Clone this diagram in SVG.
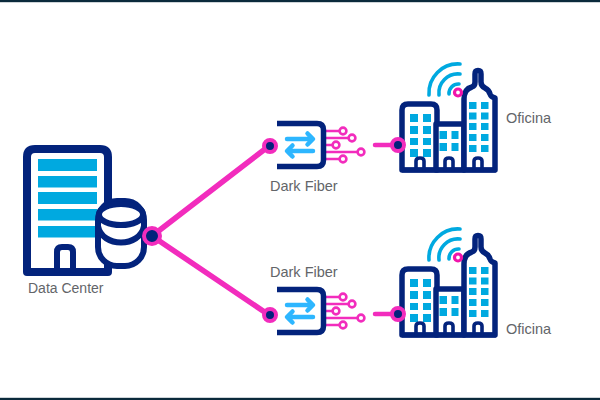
<svg xmlns="http://www.w3.org/2000/svg" width="600" height="400" viewBox="0 0 600 400">
<style>
.lbl{font-family:"Liberation Sans",Arial,sans-serif;font-size:14.5px;fill:#636569}
.nv{fill:none;stroke:#03237c;stroke-linejoin:round;stroke-linecap:round}
.wh{fill:#fff;stroke:#03237c;stroke-linejoin:round}
.pk{fill:none;stroke:#f22cbd;stroke-linecap:round}
.win{fill:#00a9e0}
.arr{fill:none;stroke:#2db6ff;stroke-width:4.500;stroke-linecap:round;stroke-linejoin:round}
.wifi{fill:none;stroke:#00a9e0;stroke-width:3.6;stroke-linecap:round}
.dot{fill:#03237c;stroke:#f22cbd;stroke-width:4}
</style>
<defs>
<g id="fiber">
<path class="pk" stroke-width="2.400" d="M326 131H340M326 138H349M326 145H333M326 152H358M326 159H340"/>
<g fill="#fff" stroke="#f22cbd" stroke-width="2.600">
<circle cx="343" cy="131" r="3.400"/><circle cx="352" cy="138" r="3.400"/><circle cx="336" cy="145" r="3.400"/><circle cx="361" cy="152" r="3.400"/><circle cx="343" cy="159" r="3.400"/>
</g>
<path d="M277 123.500H317Q323.500 123.500 323.500 130V160Q323.500 166.500 317 166.500H277" fill="none" stroke="#03237c" stroke-width="5.500"/>
<path class="arr" d="M287 139H312.500M307.500 133.500L313 139L307.500 144.500"/>
<path class="arr" d="M313 151H287.500M292.500 145.500L287 151L292.500 156.500"/>
</g>
<g id="city">
<path class="wifi" d="M429 95A29 29 0 0 1 460 64"/>
<path class="wifi" d="M439 95A19 19 0 0 1 460 74"/>
<path class="wifi" d="M449 94A9.500 9.500 0 0 1 459 84"/>
<path class="wh" stroke-width="5.500" d="M402 170V110Q402 104 408 104H431Q437 104 437 110V170Z"/>
<path class="wh" stroke-width="5.500" d="M436 170V124H464V170Z"/>
<path class="wh" stroke-width="5.500" d="M464 170V99Q464 89 472 87Q475 86 475 82V74Q475 70.500 478 70.500Q481 70.500 481 74V82Q481 86 485 88Q489 90 490 94Q491 97 495 98V170Z"/>
<path d="M402 170H496" fill="none" stroke="#03237c" stroke-width="5"/>
<g class="win">
<rect x="410" y="114" width="8" height="8"/><rect x="423" y="114" width="8" height="8"/>
<rect x="410" y="126" width="8" height="8"/><rect x="423" y="126" width="8" height="8"/>
<rect x="410" y="138" width="8" height="7"/><rect x="423" y="138" width="8" height="7"/>
<rect x="410" y="149" width="8" height="8"/><rect x="423" y="149" width="8" height="8"/>
<rect x="439.500" y="131" width="7.500" height="8"/><rect x="451.500" y="131" width="7" height="8"/>
<rect x="439.500" y="143" width="7.500" height="8"/><rect x="451.500" y="143" width="7" height="8"/>
<rect x="469" y="102" width="7.500" height="7"/><rect x="481" y="102" width="7.500" height="7"/>
<rect x="469" y="112.500" width="7.500" height="7"/><rect x="481" y="112.500" width="7.500" height="7"/>
<rect x="469" y="123" width="7.500" height="7"/><rect x="481" y="123" width="7.500" height="7"/>
<rect x="469" y="134" width="7.500" height="7"/><rect x="481" y="134" width="7.500" height="7"/>
<rect x="469" y="145" width="7.500" height="7"/><rect x="481" y="145" width="7.500" height="7"/>
</g>
<path class="nv" stroke-width="3.600" d="M416 170V161Q416 158 420 158Q424 158 424 161V170M445 170V161Q445 158 449 158Q453 158 453 161V170M474 170V161Q474 158 478 158Q482 158 482 161V170"/>
<circle cx="458" cy="92.500" r="3.500" fill="#fff" stroke="#f015ab" stroke-width="3.200"/>
</g>
</defs>
<rect width="600" height="400" fill="#fff"/>
<rect width="600" height="2.200" fill="#0b2a3c"/>
<rect y="397.800" width="600" height="2.200" fill="#0b2a3c"/>
<g id="connectors">
<path class="pk" stroke-width="5.500" d="M152 236L269 146M152 236L269 315"/>
<path class="pk" stroke-width="4.500" d="M375 145H398M375 314H398"/>
</g>
<g id="data-center">
<path d="M27 272V157Q27 149 35 149H100Q108 149 108 157V272Z" fill="#fff" stroke="#03237c" stroke-width="8" stroke-linejoin="round"/>
<g class="win"><rect x="38" y="159" width="59" height="12"/><rect x="38" y="176" width="59" height="11.500"/><rect x="38" y="192" width="59" height="12"/><rect x="38" y="209" width="59" height="11.500"/><rect x="38" y="226" width="59" height="11.500"/></g>
<path class="nv" stroke-width="6" d="M57 270V252Q57 247 62 247H68Q73 247 73 252V270"/>
<rect x="98" y="201" width="46" height="65" rx="19" fill="#fff" stroke="#03237c" stroke-width="6"/>
<ellipse cx="121" cy="214.500" rx="22" ry="10.500" fill="#fff" stroke="#03237c" stroke-width="6"/>
<path class="nv" stroke-width="6" d="M98 226C102 248 140 248 144 226"/>
<text class="lbl" x="28" y="293" style="font-size:14px">Data Center</text>
</g>
<g id="fiber-1"><use href="#fiber"/><text class="lbl" x="270" y="191">Dark Fiber</text></g>
<g id="fiber-2"><use href="#fiber" y="166"/><text class="lbl" x="270" y="277">Dark Fiber</text></g>
<g id="office-1"><use href="#city"/><text class="lbl" x="506" y="123">Oficina</text></g>
<g id="office-2"><use href="#city" y="165"/><text class="lbl" x="506" y="334">Oficina</text></g>
<g id="junctions">
<circle class="dot" cx="152" cy="236" r="8" stroke-width="5.500"/>
<circle class="dot" cx="270" cy="146" r="6"/>
<circle class="dot" cx="270" cy="315" r="6"/>
<circle class="dot" cx="398" cy="145" r="6"/>
<circle class="dot" cx="398" cy="314" r="6"/>
</g>
</svg>
